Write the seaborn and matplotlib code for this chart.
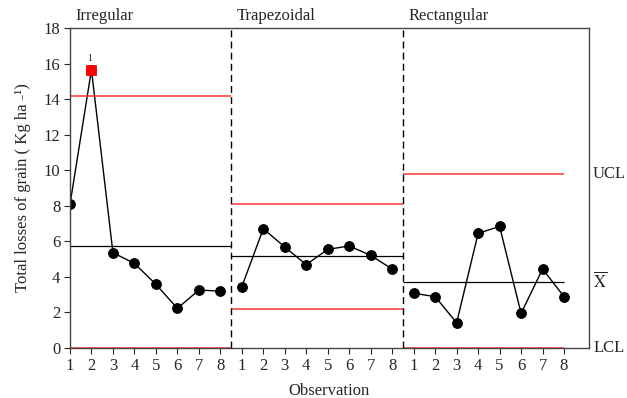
import numpy as np
import pandas as pd
import seaborn as sns
import matplotlib.pyplot as plt

# data
shapes = ['Irregular', 'Trapezoidal', 'Rectangular']
obs = [1, 2, 3, 4, 5, 6, 7, 8]
irregular = [8.08, 15.65, 5.36, 4.76, 3.58, 2.23, 3.26, 3.20]
trapezoidal = [3.45, 6.71, 5.68, 4.69, 5.55, 5.74, 5.21, 4.44]
rectangular = [3.08, 2.89, 1.42, 6.45, 6.84, 1.95, 4.44, 2.89]
ucl = [14.15, 8.12, 9.77]
xbar = [5.72, 5.19, 3.69]
lcl = [0.0, 2.21, 0.0]
out_shape = 'Irregular'
out_obs = 2

sns.set_style('ticks')
plt.rcParams['font.family'] = ['Liberation Serif', 'DejaVu Serif']
plt.rcParams['mathtext.fontset'] = 'stix'

rows = []
for k, (name, vals) in enumerate(zip(shapes, [irregular, trapezoidal, rectangular])):
    for o, v in zip(obs, vals):
        rows.append({'shape': name, 'obs': o, 'pos': k * 8 + o, 'loss': v})
df = pd.DataFrame(rows)

fig = plt.figure(figsize=(6.27, 3.98), dpi=100)
ax = fig.add_axes([0.1116, 0.1256, 0.8274, 0.804])

sns.lineplot(data=df, x='pos', y='loss', units='shape', estimator=None,
             color='black', lw=1, marker='o', markersize=7,
             markeredgecolor='black', ax=ax)

# out of control point
pt = df[(df['shape'] == out_shape) & (df['obs'] == out_obs)]
sns.scatterplot(data=pt, x='pos', y='loss', marker='s', color='red',
                s=50, edgecolor='red', zorder=5, ax=ax)
ax.text(pt['pos'].iloc[0] - 0.1, pt['loss'].iloc[0] + 0.4, '1',
        ha='center', va='bottom', fontsize=7)

# control limits per shape
for k in range(3):
    x0 = 1 if k == 0 else k * 8 + 0.5
    x1 = k * 8 + 8.5 if k < 2 else 24
    ax.hlines(ucl[k], x0, x1, color='#ff3333', lw=1.1)
    ax.hlines(lcl[k], x0, x1, color='#ff3333', lw=1.1)
    ax.hlines(xbar[k], x0, x1, color='black', lw=0.9)
    ax.text(k * 8 + 0.75 if k > 0 else 1.25, 18.25, shapes[k],
            ha='left', va='bottom', fontsize=12)

for xv in [8.5, 16.5]:
    ax.axvline(xv, color='black', lw=1, ls=(0, (5, 3)))

ax.set_xlim(1, 25.15)
ax.set_ylim(0, 18)
ax.set_yticks(np.arange(0, 19, 2))
ax.set_xticks(df['pos'])
ax.set_xticklabels(df['obs'])
ax.tick_params(labelsize=12, direction='out', length=4, width=0.8, pad=3)
for s in ax.spines.values():
    s.set_color('#444444')
    s.set_linewidth(1)

ax.set_xlabel('Observation', fontsize=12, labelpad=7)
ax.set_ylabel('Total losses of grain ( Kg ha -\u00b9)', fontsize=12, labelpad=9)

# right side labels
ax.text(25.35, ucl[2], 'UCL', ha='left', va='center', fontsize=12, clip_on=False)
ax.text(25.35, xbar[2] + 0.1, r'$\overline{\mathrm{X}}$', ha='left', va='center',
        fontsize=12, clip_on=False)
ax.text(25.35, 0, 'LCL', ha='left', va='center', fontsize=12, clip_on=False)

fig.savefig('out.png', dpi=100)
